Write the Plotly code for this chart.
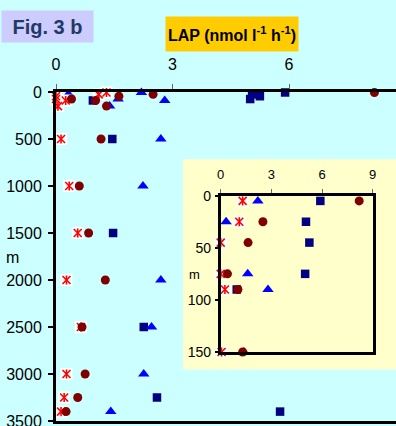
import plotly.graph_objects as go

# ---- data ----
depth = [5, 25, 45, 75, 90, 150, 500, 1000, 1500, 2000, 2500, 3000, 3250, 3400]
lap_star = [1.3, 1.1, 0.0, 0.0, 0.25, 0.05, 0.13, 0.34, 0.56, 0.27, 0.64, 0.27, 0.21, 0.13]
lap_circle = [8.2, 2.5, 1.62, 0.4, 1.02, 1.3, 1.16, 0.6, 0.84, 1.27, 0.67, 0.75, 0.56, 0.26]
lap_triangle = [2.2, 0.32, None, 1.6, 2.8, 1.38, 2.7, 2.24, None, 2.7, 2.46, 2.26, None, 1.41]
lap_square = [5.9, 5.05, 5.25, 5.0, 0.95, None, 1.45, None, 1.47, None, 2.26, None, 2.6, 5.77]

main_xticks = [0, 3, 6]
main_yticks = [0, 500, 1000, 1500, 2000, 2500, 3000, 3500]
inset_xticks = [0, 3, 6, 9]
inset_yticks = [0, 50, 100, 150]
inset_max_depth = 150

W, H = 396, 426
FONT = "Liberation Sans, Arial, sans-serif"
RED = "#FF0000"


def px(x):
    return x / W


def py(y):
    return (H - y) / H


def shallow(vals):
    xs, ys = [], []
    for v, d in zip(vals, depth):
        if d <= inset_max_depth:
            xs.append(v)
            ys.append(d)
    return xs, ys


fig = go.Figure()


def add_series(xa, ya, subset):
    def get(vals):
        if subset:
            return shallow(vals)
        return vals, depth

    x, y = get(lap_square)
    fig.add_trace(go.Scatter(x=x, y=y, xaxis=xa, yaxis=ya, mode="markers", cliponaxis=False,
                             marker=dict(symbol="square", size=8.5, color="#000080",
                                         line=dict(width=0))))
    x, y = get(lap_triangle)
    fig.add_trace(go.Scatter(x=x, y=y, xaxis=xa, yaxis=ya, mode="markers", cliponaxis=False,
                             marker=dict(symbol="triangle-up", size=10, color="#0000FF",
                                         line=dict(width=0))))
    x, y = get(lap_star)
    fig.add_trace(go.Scatter(x=x, y=y, xaxis=xa, yaxis=ya, mode="markers", cliponaxis=False,
                             marker=dict(symbol="square", size=12, color="#FFFFFF",
                                         line=dict(width=0))))
    fig.add_trace(go.Scatter(x=x, y=y, xaxis=xa, yaxis=ya, mode="markers", cliponaxis=False,
                             marker=dict(symbol="x-thin-open", size=8, color=RED,
                                         line=dict(color=RED, width=1.6))))
    fig.add_trace(go.Scatter(x=x, y=y, xaxis=xa, yaxis=ya, mode="markers", cliponaxis=False,
                             marker=dict(symbol="line-ns-open", size=6.5, color=RED,
                                         line=dict(color=RED, width=1.6))))
    x, y = get(lap_circle)
    fig.add_trace(go.Scatter(x=x, y=y, xaxis=xa, yaxis=ya, mode="markers", cliponaxis=False,
                             marker=dict(symbol="circle", size=9, color="#800000",
                                         line=dict(width=0))))


add_series("x", "y", False)
add_series("x2", "y2", True)

# inset background
fig.add_shape(type="rect", xref="paper", yref="paper",
              x0=px(183), x1=1.0, y0=py(369.5), y1=py(159.3),
              fillcolor="#FFFFCC", line=dict(width=0), layer="below")

fig.update_layout(
    width=W, height=H, template="none",
    margin=dict(l=0, r=0, t=0, b=0),
    paper_bgcolor="#CCFFFF", plot_bgcolor="rgba(0,0,0,0)",
    showlegend=False,
    font=dict(family=FONT, color="#000000"),
    xaxis=dict(domain=[px(56), 1.0], range=[0, 340 * 6 / 233], side="top",
               tickvals=main_xticks, ticktext=[str(v) for v in main_xticks],
               showgrid=False, zeroline=False, showline=True, mirror=True,
               linecolor="#000000", linewidth=3, ticks="outside", ticklen=5,
               tickwidth=1, tickcolor="#666666", tickfont=dict(size=16),
               ticklabelstandoff=8, automargin=False, anchor="y",
               ticklabeloverflow="allow"),
    yaxis=dict(domain=[py(421), py(92)], range=[3500, 0],
               tickvals=main_yticks, ticktext=[str(v) for v in main_yticks],
               showgrid=False, zeroline=False, showline=True,
               linecolor="#000000", linewidth=3, ticks="outside", ticklen=5,
               tickwidth=2, tickcolor="#000000", tickfont=dict(size=16),
               ticklabelstandoff=3, automargin=False, anchor="x",
               ticklabeloverflow="allow"),
    xaxis2=dict(domain=[px(220.7), px(372.7)], range=[0, 9], side="top",
                tickvals=inset_xticks, ticktext=[str(v) for v in inset_xticks],
                showgrid=False, zeroline=False, showline=True, mirror=True,
                linecolor="#000000", linewidth=2.5, ticks="outside", ticklen=4,
                tickwidth=1, tickcolor="#666666", tickfont=dict(size=13),
                ticklabelstandoff=5, automargin=False, anchor="y2",
                ticklabeloverflow="allow"),
    yaxis2=dict(domain=[py(352), py(195.7)], range=[150, 0],
                tickvals=inset_yticks, ticktext=[str(v) for v in inset_yticks],
                showgrid=False, zeroline=False, showline=True, mirror=True,
                linecolor="#000000", linewidth=2.5, ticks="outside", ticklen=3,
                tickwidth=2, tickcolor="#000000", tickfont=dict(size=14),
                ticklabelstandoff=1, automargin=False, anchor="x2",
                ticklabeloverflow="allow"),
)

# title boxes
fig.add_annotation(xref="paper", yref="paper", x=px(1), y=py(10), xanchor="left", yanchor="top",
                   text="<b>Fig. 3 b</b>", showarrow=False, width=91, height=31,
                   bgcolor="#CCCCFF", borderpad=0, align="center",
                   font=dict(size=20, color="#1F3A66", family=FONT))
fig.add_annotation(xref="paper", yref="paper", x=px(165), y=py(16.5), xanchor="left", yanchor="top",
                   text="<b>LAP (nmol l<sup>-1</sup> h<sup>-1</sup>)</b>", showarrow=False,
                   width=132, height=34, bgcolor="#FFCC00", borderpad=0, align="center",
                   font=dict(size=16, color="#000000", family=FONT))
# depth unit labels
fig.add_annotation(xref="paper", yref="paper", x=px(4), y=py(257), xanchor="left", yanchor="middle",
                   text="m", showarrow=False, font=dict(size=16))
fig.add_annotation(xref="paper", yref="paper", x=px(187), y=py(274), xanchor="left", yanchor="middle",
                   text="m", showarrow=False, font=dict(size=13))

fig.write_html("out.html")
